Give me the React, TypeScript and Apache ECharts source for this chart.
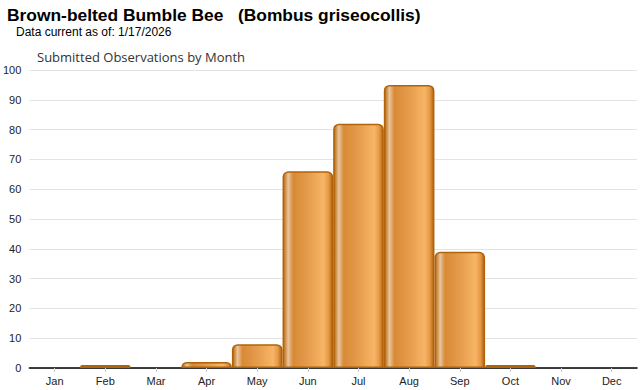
import React, { useEffect, useRef } from "react";
import * as echarts from "echarts";

const months = ["Jan", "Feb", "Mar", "Apr", "May", "Jun", "Jul", "Aug", "Sep", "Oct", "Nov", "Dec"];
const observations = [0, 1, 0, 2, 8, 66, 82, 95, 39, 1, 0, 0];
const titleText = "Brown-belted Bumble Bee   (Bombus griseocollis)";
const subtitleText = "Data current as of: 1/17/2026";
const chartTitle = "Submitted Observations by Month";

export default function App() {
  const ref = useRef<HTMLDivElement>(null);
  useEffect(() => {
    if (!ref.current) return;
    const chart = echarts.init(ref.current, null, { renderer: "svg" });
    const barColor = new echarts.graphic.LinearGradient(0, 0, 1, 0, [
      { offset: 0, color: "#b8660c" },
      { offset: 0.1, color: "#e9c59c" },
      { offset: 0.2, color: "#d88a36" },
      { offset: 0.5, color: "#e59c4c" },
      { offset: 0.82, color: "#f7b565" },
      { offset: 0.92, color: "#e59a48" },
      { offset: 1, color: "#b4640a" },
    ]);
    chart.setOption({
      animation: false,
      backgroundColor: "#ffffff",
      title: [
        {
          text: titleText,
          left: 7,
          top: 6,
          padding: 0,
          textStyle: { fontFamily: "Liberation Sans, Arial", fontWeight: "bold", fontSize: 17.4, color: "#000" },
        },
        {
          text: subtitleText,
          left: 16,
          top: 26,
          padding: 0,
          textStyle: { fontFamily: "Liberation Sans, Arial", fontWeight: "normal", fontSize: 12, color: "#000" },
        },
        {
          text: chartTitle,
          left: 37,
          top: 50,
          padding: 0,
          textStyle: { fontFamily: "Open Sans", fontWeight: "normal", fontSize: 13, color: "#333" },
        },
      ],
      grid: { left: 29, right: 3, top: 70, bottom: 22, containLabel: false },
      xAxis: {
        type: "category",
        data: months,
        axisLine: { lineStyle: { color: "#000", width: 1.5 } },
        axisTick: { show: true, alignWithLabel: true, length: 4, lineStyle: { color: "#ccc" } },
        axisLabel: { fontFamily: "Liberation Sans, Arial", fontSize: 11, color: "#222", margin: 7 },
      },
      yAxis: {
        type: "value",
        min: 0,
        max: 100,
        interval: 10,
        axisLine: { show: false },
        axisTick: { show: false },
        axisLabel: { fontFamily: "Liberation Sans, Arial", fontSize: 11, color: "#222", margin: 8 },
        splitLine: { lineStyle: { color: "#e3e3e3", width: 1 } },
      },
      series: [
        {
          type: "bar",
          data: observations.map((v) => (v === 0 ? "-" : v)),
          barCategoryGap: "0%",
          itemStyle: {
            color: barColor,
            borderColor: "#b06308",
            borderWidth: 1.5,
            borderRadius: [5, 5, 0, 0],
          },
        },
      ],
    });
    return () => chart.dispose();
  }, []);
  return <div ref={ref} style={{ width: 640, height: 390, position: "absolute", left: 0, top: 0 }} />;
}
